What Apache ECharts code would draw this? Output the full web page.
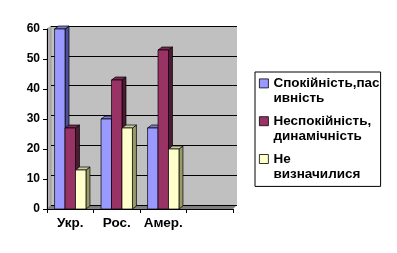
<!DOCTYPE html>
<html>
<head>
<meta charset="utf-8">
<script src="https://cdn.jsdelivr.net/npm/echarts@6/dist/echarts.min.js"></script>
<style>html,body{margin:0;padding:0;background:#fff;}#c{width:397px;height:253px;}</style>
</head>
<body>
<div id="c"></div>
<script>
const categories = ['Укр.', 'Рос.', 'Амер.', ''];
const seriesNames = ['Спокійність,пасивність', 'Неспокійність, динамічність', 'Не визначилися'];
const legendLabels = ['Спокійність,пас\nивність', 'Неспокійність,\nдинамічність', 'Не\nвизначилися'];
const calm = [60, 30, 27, null];
const restless = [27, 43, 53, null];
const undecided = [13, 27, 20, null];
const yTicks = [0, 10, 20, 30, 40, 50, 60];

const colors = ['#9999FF', '#993366', '#FFFFCC'];
const sideColors = ['#4D4D99', '#4D1A33', '#999966'];
const topColors = ['#7A7ACC', '#7A2952', '#CCCCA3'];
const DX = 4, DY = 3;

function makeRender(sIdx) {
  return function (params, api) {
    const v = api.value(1);
    if (v == null || isNaN(v)) return null;
    const idx = api.value(0);
    const base = api.coord([idx, 0]);
    const top = api.coord([idx, v]);
    const band = api.size([1, 0])[0];
    const barW = band * 0.225;
    const x0 = base[0] - 1.5 * barW + sIdx * barW;
    const x1 = x0 + barW;
    const yb = base[1], yt = top[1];
    const st = { stroke: '#000', lineWidth: 0.7 };
    return {
      type: 'group',
      children: [
        { type: 'polygon', shape: { points: [[x1, yt], [x1 + DX, yt - DY], [x1 + DX, yb - DY], [x1, yb]] },
          style: Object.assign({ fill: sideColors[sIdx] }, st) },
        { type: 'polygon', shape: { points: [[x0, yt], [x0 + DX, yt - DY], [x1 + DX, yt - DY], [x1, yt]] },
          style: Object.assign({ fill: topColors[sIdx] }, st) },
        { type: 'rect', shape: { x: x0, y: yt, width: barW, height: yb - yt },
          style: Object.assign({ fill: colors[sIdx] }, st) }
      ]
    };
  };
}

const dataSets = [calm, restless, undecided];
const series = dataSets.map((arr, s) => ({
  type: 'custom',
  name: seriesNames[s],
  xAxisIndex: 1,
  yAxisIndex: 1,
  itemStyle: { color: colors[s], borderColor: '#000', borderWidth: 0.8 },
  renderItem: makeRender(s),
  clip: false,
  encode: { x: 0, y: 1 },
  data: arr.map((v, i) => [i, v])
}));

const fam = 'Liberation Sans, Arial, sans-serif';
const font = { fontFamily: fam, fontWeight: 'bold', fontSize: 13.5, color: '#000' };
const yFont = { fontFamily: fam, fontWeight: 'bold', fontSize: 12, color: '#000' };

const chart = echarts.init(document.getElementById('c'), null, { renderer: 'canvas' });
chart.setOption({
  animation: false,
  color: colors,
  graphic: [
    { type: 'polygon', z: -1, shape: { points: [[47, 29], [51, 26], [51, 206], [47, 209]] }, style: { fill: '#B0B0B0', stroke: '#808080', lineWidth: 0.5 } },
    { type: 'polygon', z: -1, shape: { points: [[47, 209], [51, 205], [237, 205], [233, 209]] }, style: { fill: '#808080' } }
  ],
  grid: [
    { left: 51, top: 26, width: 186, height: 179, show: true, backgroundColor: '#C0C0C0', borderWidth: 0, z: -2 },
    { left: 47, top: 29, width: 186, height: 180, show: false }
  ],
  xAxis: [
    { type: 'category', gridIndex: 0, data: categories, show: false },
    { type: 'category', gridIndex: 1, data: categories, boundaryGap: true,
      axisLine: { lineStyle: { color: '#000', width: 1 } },
      axisTick: { show: true, interval: 0, length: 4, lineStyle: { color: '#000' } },
      axisLabel: Object.assign({ interval: 0, margin: 7 }, font) }
  ],
  yAxis: [
    { type: 'value', gridIndex: 0, min: 0, max: 60, interval: 10,
      axisLine: { show: false }, axisTick: { show: false }, axisLabel: { show: false },
      splitLine: { show: true, lineStyle: { color: '#000', width: 1 } } },
    { type: 'value', gridIndex: 1, min: 0, max: 60, interval: 10,
      axisLine: { show: true, lineStyle: { color: '#000', width: 1 } },
      axisTick: { show: true, length: 4, lineStyle: { color: '#000' } },
      splitLine: { show: false },
      axisLabel: Object.assign({ margin: 7, formatter: v => yTicks.includes(v) ? String(v) : '' }, yFont) }
  ],
  legend: {
    orient: 'vertical',
    left: 255,
    top: 72,
    padding: [3.5, 1, 4.5, 4],
    itemGap: 7,
    itemWidth: 9,
    itemHeight: 30,
    selectedMode: false,
    borderColor: '#000',
    borderWidth: 1,
    icon: 'path://M0,3H9V12H0Z M0,0 M9,30',
    itemStyle: { borderColor: '#000', borderWidth: 0.8 },
    data: seriesNames,
    formatter: name => legendLabels[seriesNames.indexOf(name)],
    textStyle: Object.assign({ lineHeight: 15 }, font)
  },
  series: series
});
</script>
</body>
</html>
